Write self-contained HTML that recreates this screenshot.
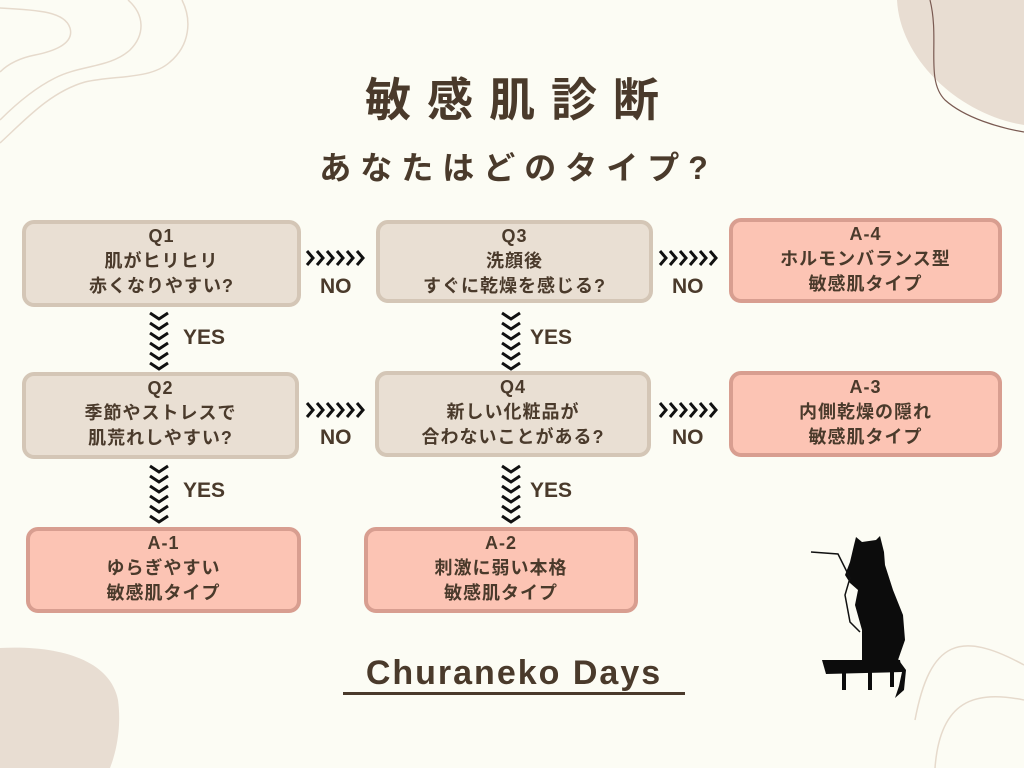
<!DOCTYPE html>
<html><head><meta charset="utf-8"><style>
body{margin:0;width:1024px;height:768px;background:#fcfcf4;position:relative;overflow:hidden;font-family:"Liberation Sans","Noto Sans CJK JP",sans-serif;color:#4a3a2b}
.b{position:absolute;box-sizing:border-box;border:4px solid #d4c6b6;background:#e9dfd3;border-radius:12px;text-align:center;font-weight:bold;font-size:18px;line-height:25px;padding-top:0px;letter-spacing:1px}
.a{background:#fcc4b4;border-color:#d89e90}
.t{position:absolute;font-weight:bold;white-space:nowrap}
.n{font-size:21px}
</style></head><body>
<svg width="1024" height="768" style="position:absolute;left:0;top:0">
<defs>
<g id="R" fill="none" stroke="#111" stroke-width="3">
<polyline points="0,0 6,7 0,14"/><polyline points="10,0 16,7 10,14"/><polyline points="20,0 26,7 20,14"/><polyline points="30,0 36,7 30,14"/><polyline points="40,0 46,7 40,14"/><polyline points="50,0 56,7 50,14"/>
</g>
<g id="D" fill="none" stroke="#111" stroke-width="3">
<polyline points="0,0 9,6 18,0"/><polyline points="0,10 9,16 18,10"/><polyline points="0,20 9,26 18,20"/><polyline points="0,30 9,36 18,30"/><polyline points="0,40 9,46 18,40"/><polyline points="0,50 9,56 18,50"/>
</g>
</defs>
<path d="M897 0 C900 60 960 115 1024 125 L1024 0Z" fill="#e8ddd2"/>
<path d="M930 0 C940 40 925 80 945 100 C965 118 1000 128 1024 132" fill="none" stroke="#7a5a52" stroke-width="1.2"/>
<path d="M0 8 C40 10 65 12 70 28 C75 45 50 52 35 55 C20 58 8 64 0 72" fill="none" stroke="#e6dacc" stroke-width="1.5"/>
<path d="M128 0 C145 15 145 35 130 50 C110 68 80 65 55 78 C35 88 15 105 0 120" fill="none" stroke="#e6dacc" stroke-width="1.5"/>
<path d="M182 0 C192 20 190 45 170 62 C150 80 115 75 85 82 C50 92 25 120 0 143" fill="none" stroke="#e6dacc" stroke-width="1.5"/>
<path d="M0 648 C60 645 110 660 118 700 C122 730 115 755 110 768 L0 768Z" fill="#e8ddd2"/>
<path d="M915 720 C930 640 960 630 1024 665" fill="none" stroke="#e6dacc" stroke-width="1.5"/>
<path d="M935 768 C940 700 975 690 1024 700" fill="none" stroke="#e6dacc" stroke-width="1.5"/>
<g fill="#0c0c0c">
<path d="M854 545 L856 537 L862 542 L876 540 L880 536 L884 552 L885 565 L893 590 L903 615 L905 640 L898 660 L890 668 L870 668 L862 660 L862 630 L855 605 L858 590 L850 583 L845 575 L850 562Z"/>
<path d="M895 655 L906 670 L904 690 L895 698 L899 686 L902 672 L893 662Z"/>
<path d="M822 660 L900 660 L902 672 L826 674Z"/>
<rect x="842" y="672" width="4" height="18"/><rect x="868" y="672" width="4" height="18"/><rect x="890" y="672" width="4" height="15"/>
</g>
<path d="M811 552 L838 554 L850 578 L845 595 L850 622 L860 632" fill="none" stroke="#111" stroke-width="1.5"/>
<use href="#R" x="307" y="251"/><use href="#R" x="660" y="251"/>
<use href="#R" x="307" y="403"/><use href="#R" x="660" y="403"/>
<use href="#D" x="150" y="313"/><use href="#D" x="502" y="313"/>
<use href="#D" x="150" y="466"/><use href="#D" x="502" y="466"/>
</svg>
<div class="t" style="left:8px;width:1024px;text-align:center;top:64px;font-size:46px;letter-spacing:16px">敏感肌診断</div>
<div class="t" style="left:6px;width:1024px;text-align:center;top:143px;font-size:32px;letter-spacing:9px">あなたはどのタイプ?</div>

<div class="b" style="left:22px;top:220px;width:279px;height:87px">Q1<br>肌がヒリヒリ<br>赤くなりやすい?</div>
<div class="b" style="left:376px;top:220px;width:277px;height:83px">Q3<br>洗顔後<br>すぐに乾燥を感じる?</div>
<div class="b a" style="left:729px;top:218px;width:273px;height:85px">A-4<br>ホルモンバランス型<br>敏感肌タイプ</div>
<div class="b" style="left:22px;top:372px;width:277px;height:87px">Q2<br>季節やストレスで<br>肌荒れしやすい?</div>
<div class="b" style="left:375px;top:371px;width:276px;height:86px">Q4<br>新しい化粧品が<br>合わないことがある?</div>
<div class="b a" style="left:729px;top:371px;width:273px;height:86px">A-3<br>内側乾燥の隠れ<br>敏感肌タイプ</div>
<div class="b a" style="left:26px;top:527px;width:275px;height:86px">A-1<br>ゆらぎやすい<br>敏感肌タイプ</div>
<div class="b a" style="left:364px;top:527px;width:274px;height:86px">A-2<br>刺激に弱い本格<br>敏感肌タイプ</div>

<div class="t n" style="left:320px;top:275px">NO</div>
<div class="t n" style="left:672px;top:275px">NO</div>
<div class="t n" style="left:320px;top:426px">NO</div>
<div class="t n" style="left:672px;top:426px">NO</div>

<div class="t n" style="left:183px;top:326px">YES</div>
<div class="t n" style="left:530px;top:326px">YES</div>
<div class="t n" style="left:183px;top:479px">YES</div>
<div class="t n" style="left:530px;top:479px">YES</div>

<div class="t" style="left:343px;top:654px;width:342px;text-align:center;font-size:34px;letter-spacing:2px;border-bottom:3px solid #4a3a2b;line-height:38px">Churaneko Days</div>
</body></html>
